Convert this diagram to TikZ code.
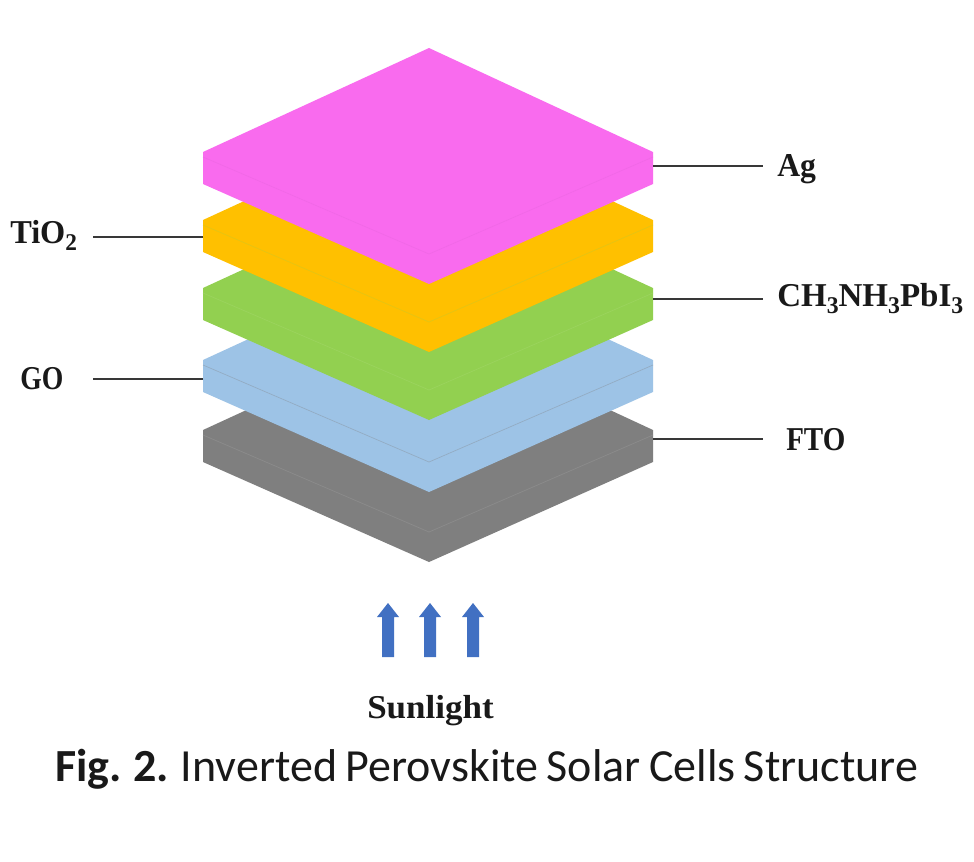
\documentclass[tikz,border=0pt]{standalone}
\usepackage{fontspec}
\setmainfont{Liberation Serif}
\newfontfamily\capfont[WordSpace=0.8]{Carlito}
\newcommand{\layer}[4]{% name, left-top y, fill, seam colour
  \coordinate (#1L) at (203,#2);
  \coordinate (#1T) at (429,#2-104);
  \coordinate (#1R) at (653,#2);
  \fill[#3] (#1T) -- (#1L) -- (203,#2+32) -- (429,#2+132) -- (653,#2+32) -- (#1R) -- cycle;
  \draw[#4,line width=0.5pt] (203,#2+5) -- (429,#2+102) -- (653,#2+5);
}
\newcommand{\subthree}{\raisebox{-0.22em}{\fontsize{18}{18}\selectfont 3}}
\newcommand{\subtwo}{\raisebox{-0.22em}{\fontsize{18}{18}\selectfont 2}}
\definecolor{cPink}{HTML}{F96BEE}
\definecolor{cOrange}{HTML}{FFC000}
\definecolor{cGreen}{HTML}{92D050}
\definecolor{cBlue}{HTML}{9DC3E6}
\definecolor{cGray}{HTML}{7F7F7F}
\definecolor{cArrow}{HTML}{4170C2}
\definecolor{cLine}{HTML}{383838}
\tikzset{
  leader/.style={draw=cLine,line width=2.2pt},
  lbl/.style={inner sep=0pt,font=\fontsize{25}{25}\selectfont\bfseries,text=black!90,anchor=base west},
  sunarrow/.style={fill=cArrow,draw=none},
}
\begin{document}
\begin{tikzpicture}[x=0.75pt,y=-0.75pt]
\useasboundingbox (0,0) rectangle (974,861);
\fill[white] (0,0) rectangle (974,861);
\layer{fto}{430}{cGray}{cGray!90!white}
\layer{go}{360}{cBlue}{cGray!35!cBlue}
\layer{pvk}{288}{cGreen}{cGreen!92!white}
\layer{tio}{220}{cOrange}{cOrange!75!cGreen}
\layer{ag}{152}{cPink}{cPink!97!black}
% connector anchors
\coordinate (aAg) at (653,166); \coordinate (eAg) at (763,166);
\coordinate (aPvk) at (653,299); \coordinate (ePvk) at (763,299);
\coordinate (aFto) at (653,439); \coordinate (eFto) at (763,439);
\coordinate (aTio) at (203,237); \coordinate (eTio) at (93,237);
\coordinate (aGo) at (203,379); \coordinate (eGo) at (93,379);
\draw[leader] (aAg) -- (eAg);
\draw[leader] (aPvk) -- (ePvk);
\draw[leader] (aFto) -- (eFto);
\draw[leader] (aTio) -- (eTio);
\draw[leader] (aGo) -- (eGo);
% labels
\node[lbl] (lAg) at (777,176) {\scalebox{0.95}[1]{Ag}};
\node[lbl] (lPvk) at (777,306) {\scalebox{0.99}[1]{CH\subthree NH\subthree PbI\subthree}};
\node[lbl] (lFto) at (786,450) {\scalebox{0.87}[1]{FTO}};
\node[lbl] (lTio) at (10,243) {\scalebox{0.97}[1]{TiO\subtwo}};
\node[lbl] (lGo) at (20,389) {\scalebox{0.83}[1]{GO}};
% sunlight arrows
\foreach \cx in {388,430,473}{
  \fill[sunarrow] (\cx-6,657) -- (\cx-6,617) -- (\cx-11,617) -- (\cx,603) -- (\cx+11,617) -- (\cx+6,617) -- (\cx+6,657) -- cycle;
}
\node[lbl] (lSun) at (367,718) {\scalebox{1.05}[1]{Sunlight}};
\node[inner sep=0pt,anchor=base west,font=\capfont\fontsize{34.5}{34.5}\selectfont,text=black!90] (cap) at (55,781) {\textbf{Fig. 2.} Inverted Perovskite Solar Cells Structure};
\end{tikzpicture}
\end{document}
